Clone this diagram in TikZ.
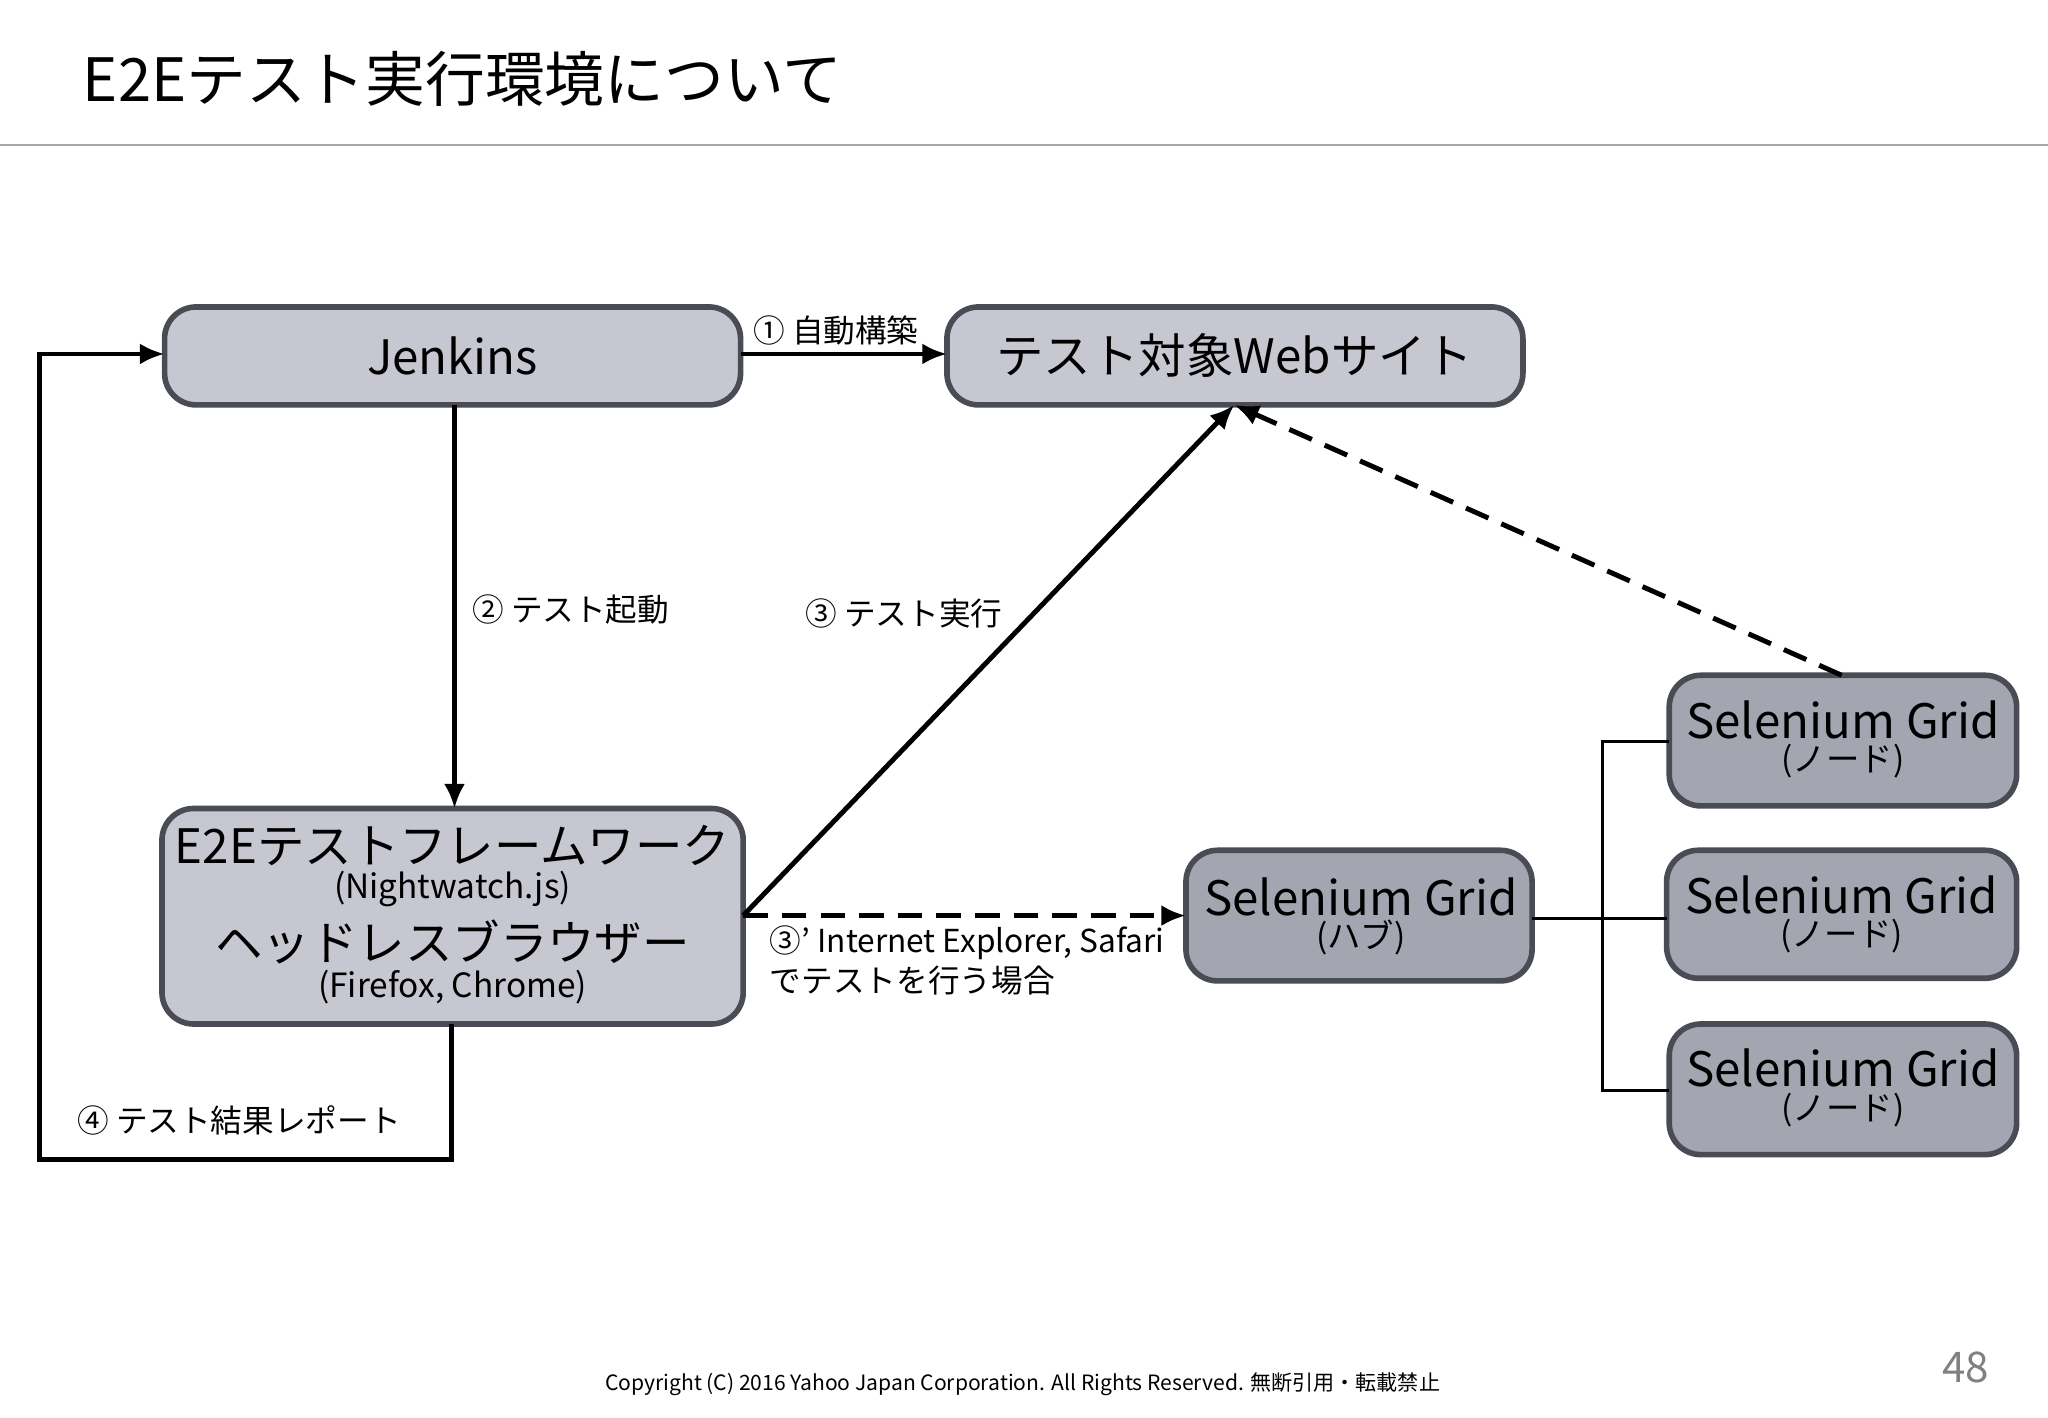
\documentclass[tikz,border=0pt]{standalone}
\usepackage{fontspec}
\setmainfont{Noto Sans CJK JP}
\usetikzlibrary{arrows.meta}
\definecolor{boxa}{HTML}{C6C7D1}
\definecolor{boxb}{HTML}{A3A6B1}
\definecolor{edge}{HTML}{4A4C55}
\begin{document}
\begin{tikzpicture}[x=0.013061cm,y=-0.013061cm,
  box/.style={draw=edge,line width=1.6pt,rounded corners=9pt,fill=boxa,inner sep=0pt},
  dbox/.style={box,fill=boxb},
  arr/.style={line width=1.4pt,-{Latex[length=7pt,width=6pt]}},
  darr/.style={arr,dash pattern=on 7pt off 4pt},
  lab/.style={font=\fontsize{9}{11}\selectfont},
  big/.style={font=\fontsize{13.5}{15}\selectfont},
  sub/.style={font=\fontsize{9.5}{11}\selectfont}]
\useasboundingbox (0,0) rectangle (1568,1085);
\node[anchor=west,font=\fontsize{17}{20}\selectfont] (title) at (54,60) {E2Eテスト実行環境について};
\draw[gray!70,line width=0.8pt] (0,111) coordinate (r1) -- (1568,111) coordinate (r2);
% boxes
\draw[box] (126,235) rectangle (567,310);
\node[big] (jen) at (346.5,272.5) {Jenkins};
\coordinate (jenL) at (126,271); \coordinate (jenR) at (567,271); \coordinate (jenB) at (348,310);
\draw[box] (725,235) rectangle (1166,310);
\node[big] (web) at (945.5,272.5) {テスト対象Webサイト};
\coordinate (webL) at (725,271); \coordinate (webB) at (945,310);
\draw[box] (124,619) rectangle (569,784);
\node[big] (e2e1) at (346.5,647) {E2Eテストフレームワーク};
\node[sub] (e2e2) at (346.5,681) {(Nightwatch.js)};
\node[big] (e2e3) at (346.5,721) {ヘッドレスブラウザー};
\node[sub] (e2e4) at (346.5,756) {(Firefox, Chrome)};
\coordinate (e2eT) at (348,619); \coordinate (e2eR) at (569,701); \coordinate (e2eB) at (346,784);
\draw[dbox] (908,651) rectangle (1173,751);
\node[big] (hub) at (1042,687) {Selenium Grid};
\node[sub] (hubs) at (1042,718) {(ハブ)};
\coordinate (hubL) at (908,701); \coordinate (hubR) at (1173,703);
\foreach \n/\xa/\ya/\yb in {1/1278/517/617,2/1276/651/749,3/1278/784/884}{
  \draw[dbox] (\xa,\ya) rectangle (1544,\yb);
  \node[big] (n\n) at ({(\xa+1544)/2},{\ya+34}) {Selenium Grid};
  \node[sub] (n\n s) at ({(\xa+1544)/2},{\ya+66}) {(ノード)};
}
\coordinate (n1T) at (1410,517);
\coordinate (n1L) at (1278,568); \coordinate (n2L) at (1276,703); \coordinate (n3L) at (1278,835);
% connectors
\draw[arr] (jenR) -- (webL);
\node[lab] (l1) at (640,253) {① 自動構築};
\draw[arr] (jenB) -- (e2eT);
\node[lab] (l2) at (437,467) {② テスト起動};
\draw[arr] (e2eR) -- (webB);
\node[lab] (l3) at (692,470) {③ テスト実行};
\draw[darr] (e2eR) -- (hubL);
\node[lab,anchor=west] (l3a) at (580,722) {③’ Internet Explorer, Safari};
\node[lab,anchor=west] (l3b) at (580,751) {でテストを行う場合};
\draw[darr] (n1T) -- (webB);
\draw[arr] (e2eB) -- (346,888) -- (30,888) -- (30,271) -- (jenL);
\node[lab] (l4) at (183,858) {④ テスト結果レポート};
\draw[line width=0.8pt] (hubR) -- (1227,703);
\draw[line width=0.8pt] (n1L) -- (1227,568) -- (1227,835) -- (n3L);
\draw[line width=0.8pt] (1227,703) -- (n2L);
% footer
\node[font=\fontsize{6}{7}\selectfont] (copy) at (783,1060) {Copyright (C) 2016 Yahoo Japan Corporation. All Rights Reserved. 無断引用・転載禁止};
\node[font=\fontsize{12}{14}\selectfont,text=gray] (pg) at (1505,1047) {48};
\end{tikzpicture}
\end{document}
